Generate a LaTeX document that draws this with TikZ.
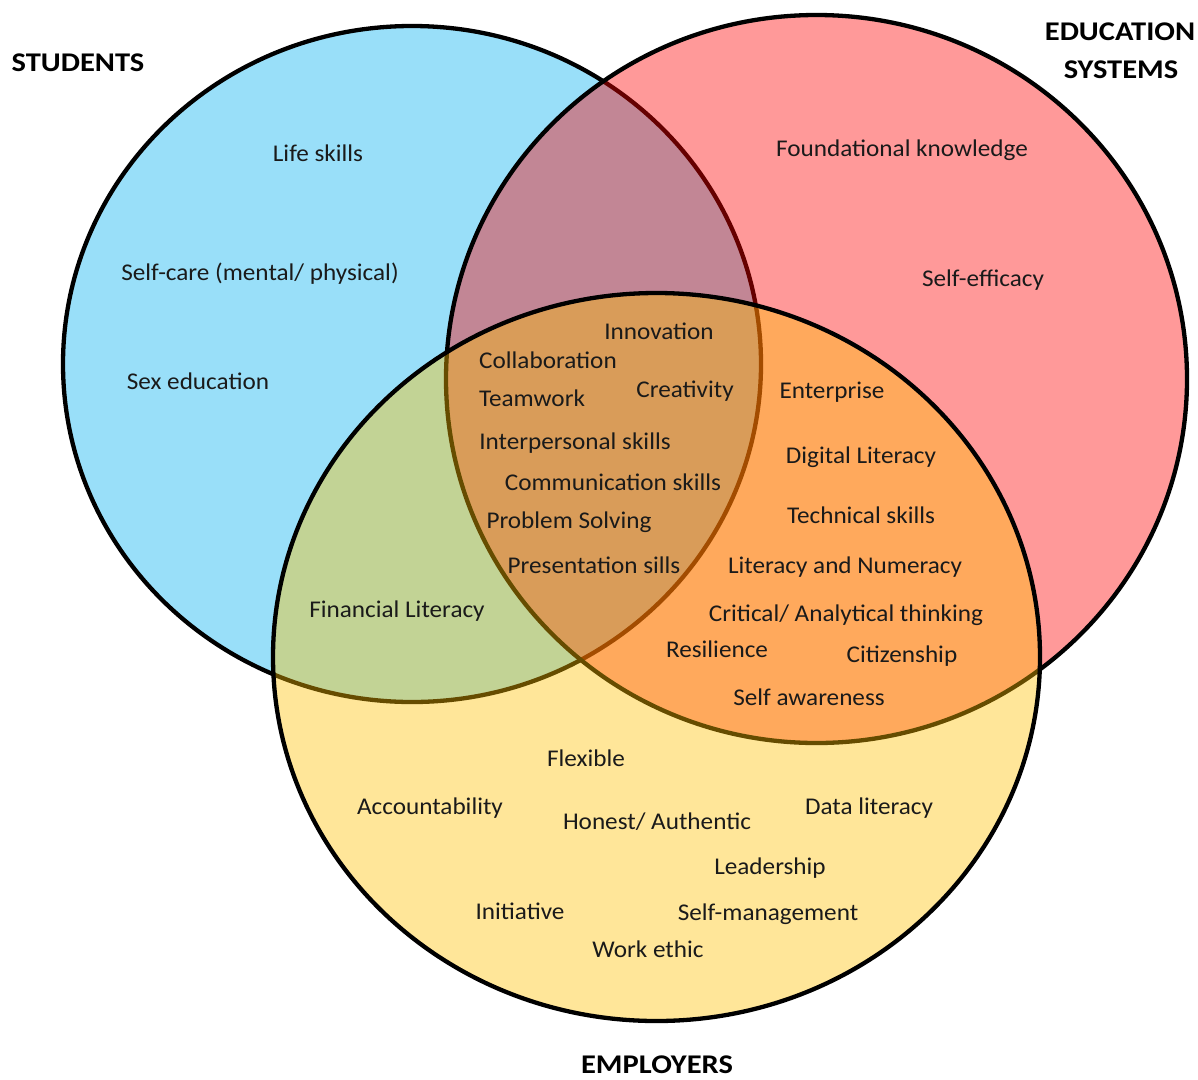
\documentclass[tikz,border=0pt]{standalone}
\usepackage{fontspec}
\setmainfont{Carlito}[FakeStretch=1.05]
\newfontfamily\headfont{Carlito}[FakeStretch=1.13]
\definecolor{cblue}{HTML}{00B0F0}
\definecolor{cred}{HTML}{FF0000}
\definecolor{cyel}{HTML}{FFC000}
\definecolor{txt}{HTML}{1A1A1A}
\begin{document}
\begin{tikzpicture}[x=1pt,y=-1pt,
  set/.style={line width=4.3pt, draw=black, fill opacity=0.4},
  lbl/.style={font=\fontsize{24}{28}\selectfont, anchor=base, inner sep=0pt, text=txt},
  head/.style={font=\headfont\bfseries\fontsize{27}{31}\selectfont, anchor=base, inner sep=0pt, text=black}]
\useasboundingbox (0,0) rectangle (1198,1079);
% sets
\filldraw[set, fill=cblue] (412,364) ellipse [x radius=349pt, y radius=338pt];
\filldraw[set, fill=cred] (816.5,379) ellipse [x radius=370.5pt, y radius=364pt];
\filldraw[set, fill=cyel] (656.5,657) ellipse [x radius=383.5pt, y radius=364pt];
% headings
\node[head] (hstu) at (78,71) {STUDENTS};
\node[head] (hedu1) at (1120,40) {EDUCATION};
\node[head] (hedu2) at (1121,78) {SYSTEMS};
\node[head] (hemp) at (657,1073) {EMPLOYERS};
% students only
\node[lbl] (t1) at (318,161) {Life skills};
\node[lbl] (t2) at (260,280) {Self-care (mental/ physical)};
\node[lbl] (t3) at (198,389) {Sex education};
% education only
\node[lbl] (t4) at (902,156) {Foundational knowledge};
\node[lbl] (t5) at (983,286) {Self-efficacy};
% all three
\node[lbl] (t6) at (659,339) {Innovation};
\node[lbl] (t7) at (548,368) {Collaboration};
\node[lbl] (t8) at (532,406) {Teamwork};
\node[lbl] (t9) at (685,397) {Creativity};
\node[lbl] (t10) at (575,449) {Interpersonal skills};
\node[lbl] (t11) at (613,490) {Communication skills};
\node[lbl] (t12) at (569,528) {Problem Solving};
\node[lbl] (t13) at (594,573) {Presentation sills};
% education & employers
\node[lbl] (t14) at (832,398) {Enterprise};
\node[lbl] (t15) at (861,463) {Digital Literacy};
\node[lbl] (t16) at (861,523) {Technical skills};
\node[lbl] (t17) at (845,573) {Literacy and Numeracy};
\node[lbl] (t18) at (846,621) {Critical/ Analytical thinking};
\node[lbl] (t19) at (717,657) {Resilience};
\node[lbl] (t20) at (902,662) {Citizenship};
\node[lbl] (t21) at (809,705) {Self awareness};
% students & employers
\node[lbl] (t22) at (397,617) {Financial Literacy};
% employers only
\node[lbl] (t23) at (586,766) {Flexible};
\node[lbl] (t24) at (430,814) {Accountability};
\node[lbl] (t25) at (657,829) {Honest/ Authentic};
\node[lbl] (t26) at (869,814) {Data literacy};
\node[lbl] (t27) at (770,874) {Leadership};
\node[lbl] (t28) at (520,919) {Initiative};
\node[lbl] (t29) at (768,920) {Self-management};
\node[lbl] (t30) at (648,957) {Work ethic};
\end{tikzpicture}
\end{document}
